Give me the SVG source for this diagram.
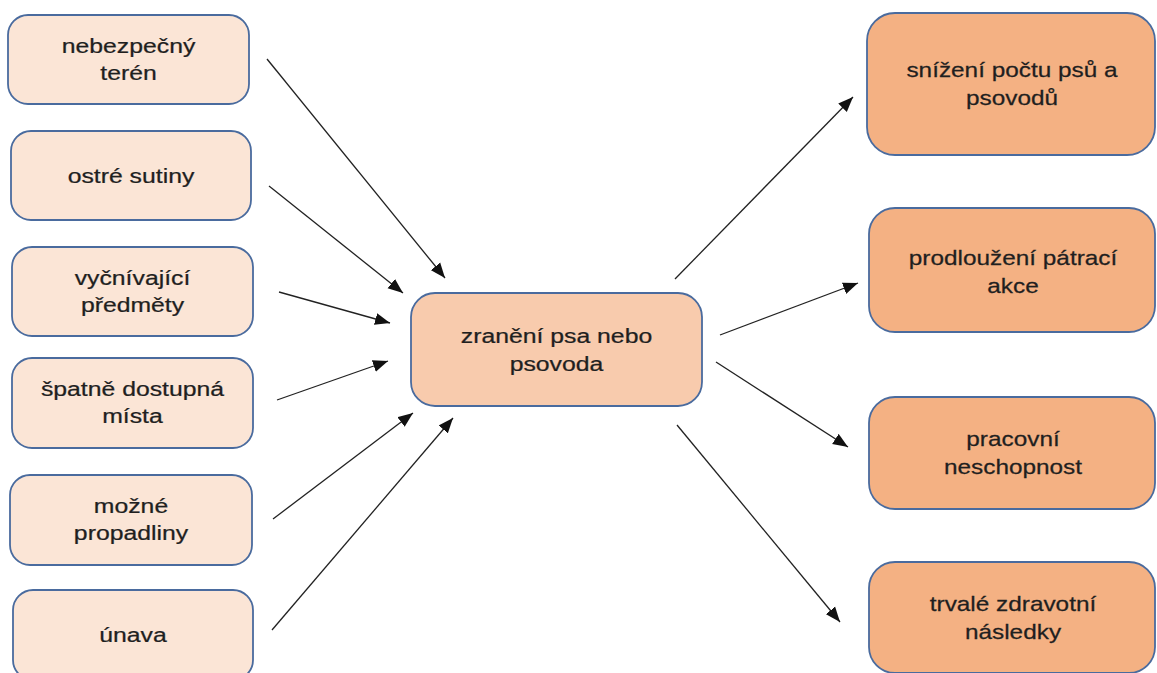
<svg xmlns="http://www.w3.org/2000/svg" width="1157" height="673" viewBox="0 0 1157 673">
<defs>
<style>
.box{stroke:#4A6B9E;stroke-width:1.8}
.l{fill:#FBE5D6}
.c{fill:#F8CBAD}
.r{fill:#F4B183}
text{font-family:"Liberation Sans",Arial,sans-serif;font-size:21px;fill:#1f1f1f;text-anchor:middle;stroke:#1f1f1f;stroke-width:0.25}
.edge{stroke:#222;stroke-width:1.3;fill:none;marker-end:url(#ah)}
</style>
<marker id="ah" markerUnits="userSpaceOnUse" markerWidth="16" markerHeight="13" refX="15" refY="6.5" orient="auto">
<path d="M0,0.5 L15,6.5 L0,12.5 z" fill="#111"/>
</marker>
</defs>
<rect width="1157" height="673" fill="#fff"/>
<g id="n1"><rect class="box l" x="8" y="15" width="241" height="89" rx="20"/>
<text transform="translate(128.5 53) scale(1.18 1)">nebezpečný</text>
<text transform="translate(128.5 80) scale(1.18 1)">terén</text></g>
<g id="n2"><rect class="box l" x="11" y="131" width="240" height="89" rx="20"/>
<text transform="translate(131 183) scale(1.18 1)">ostré sutiny</text></g>
<g id="n3"><rect class="box l" x="12" y="247" width="241" height="89" rx="20"/>
<text transform="translate(132.5 285) scale(1.18 1)">vyčnívající</text>
<text transform="translate(132.5 312) scale(1.18 1)">předměty</text></g>
<g id="n4"><rect class="box l" x="12" y="358" width="241" height="90" rx="20"/>
<text transform="translate(132.5 396) scale(1.18 1)">špatně dostupná</text>
<text transform="translate(132.5 423) scale(1.18 1)">místa</text></g>
<g id="n5"><rect class="box l" x="10" y="475" width="242" height="90" rx="20"/>
<text transform="translate(131 513) scale(1.18 1)">možné</text>
<text transform="translate(131 540) scale(1.18 1)">propadliny</text></g>
<g id="n6"><rect class="box l" x="13" y="590" width="240" height="90" rx="20"/>
<text transform="translate(133 642) scale(1.18 1)">únava</text></g>
<g id="center"><rect class="box c" x="411" y="293" width="291" height="113" rx="24"/>
<text transform="translate(556.5 343) scale(1.18 1)">zranění psa nebo</text>
<text transform="translate(556.5 371) scale(1.18 1)">psovoda</text></g>
<g id="r1"><rect class="box r" x="867" y="13" width="288" height="142" rx="28"/>
<text transform="translate(1012 77) scale(1.16 1)">snížení počtu psů a</text>
<text transform="translate(1012 105) scale(1.16 1)">psovodů</text></g>
<g id="r2"><rect class="box r" x="869" y="208" width="286" height="124" rx="26"/>
<text transform="translate(1013 265) scale(1.16 1)">prodloužení pátrací</text>
<text transform="translate(1013 293) scale(1.16 1)">akce</text></g>
<g id="r3"><rect class="box r" x="869" y="397" width="286" height="112" rx="26"/>
<text transform="translate(1013 446) scale(1.16 1)">pracovní</text>
<text transform="translate(1013 474) scale(1.16 1)">neschopnost</text></g>
<g id="r4"><rect class="box r" x="869" y="562" width="286" height="111" rx="26"/>
<text transform="translate(1013 611) scale(1.16 1)">trvalé zdravotní</text>
<text transform="translate(1013 639) scale(1.16 1)">následky</text></g>
<g id="connectors">
<line class="edge" x1="267" y1="59" x2="445" y2="278"/>
<line class="edge" x1="269" y1="186" x2="403" y2="293"/>
<line class="edge" x1="279" y1="292" x2="390" y2="323"/>
<line class="edge" x1="277" y1="400" x2="388" y2="361"/>
<line class="edge" x1="273" y1="519" x2="413" y2="413"/>
<line class="edge" x1="272" y1="630" x2="453" y2="418"/>
<line class="edge" x1="675" y1="279" x2="853" y2="97"/>
<line class="edge" x1="720" y1="335" x2="858" y2="283"/>
<line class="edge" x1="716" y1="362" x2="848" y2="447"/>
<line class="edge" x1="677" y1="425" x2="840" y2="622"/>
</g>
</svg>
